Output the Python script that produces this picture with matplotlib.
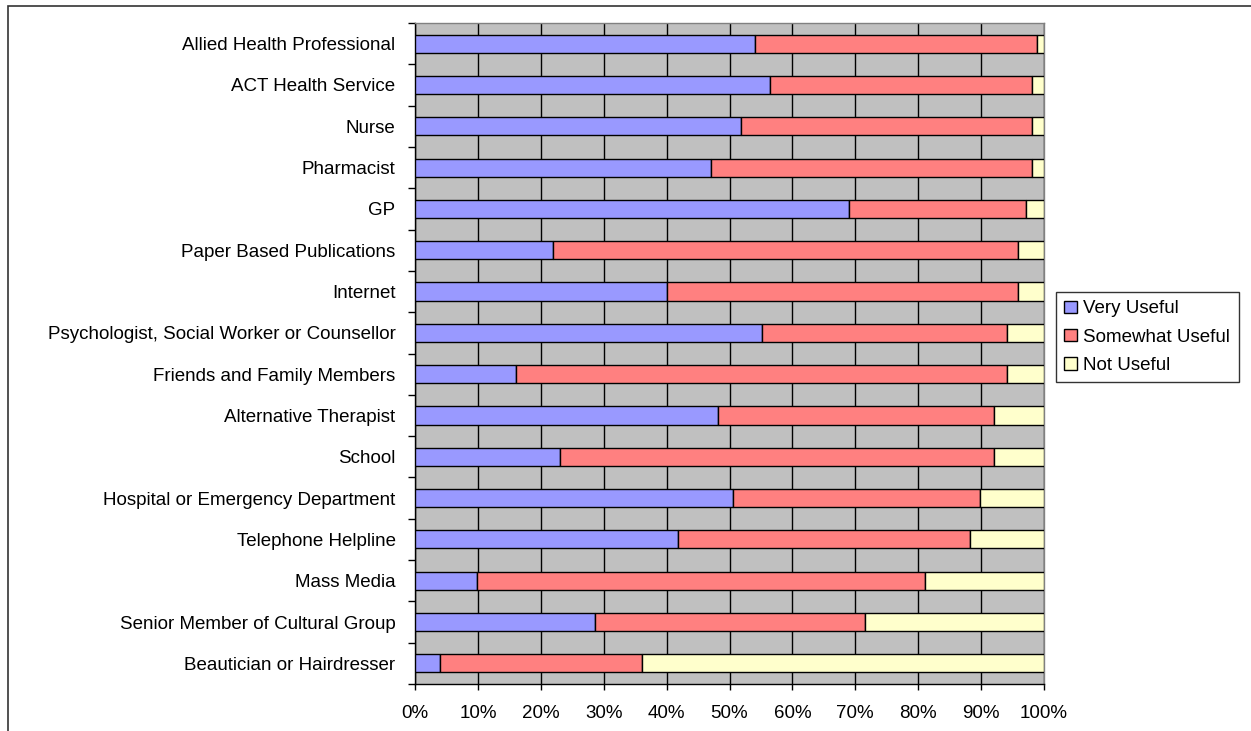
import matplotlib
matplotlib.use("Agg")

import numpy as np
import matplotlib.pyplot as plt
from matplotlib.patches import Rectangle

# categories, top to bottom as in the chart
categories = [
    "Allied Health Professional",
    "ACT Health Service",
    "Nurse",
    "Pharmacist",
    "GP",
    "Paper Based Publications",
    "Internet",
    "Psychologist, Social Worker or Counsellor",
    "Friends and Family Members",
    "Alternative Therapist",
    "School",
    "Hospital or Emergency Department",
    "Telephone Helpline",
    "Mass Media",
    "Senior Member of Cultural Group",
    "Beautician or Hairdresser",
]

# percentages
very_useful = [54.0, 56.4, 51.9, 47.0, 69.0, 21.9, 40.1, 55.1, 16.0, 48.1, 23.0, 50.6, 41.8, 9.8, 28.6, 3.9]
somewhat_useful = [44.9, 41.7, 46.2, 51.1, 28.1, 74.0, 55.8, 39.0, 78.1, 43.9, 69.0, 39.3, 46.5, 71.3, 42.9, 32.2]
not_useful = [1.1, 1.9, 1.9, 1.9, 2.9, 4.1, 4.1, 5.9, 5.9, 8.0, 8.0, 10.1, 11.7, 18.9, 28.5, 63.9]

series_names = ["Very Useful", "Somewhat Useful", "Not Useful"]
colors = ["#9999FF", "#FF8080", "#FFFFCC"]

plt.rcParams["font.family"] = ["Liberation Sans", "DejaVu Sans"]
FS = 13.5

fig = plt.figure(figsize=(12.51, 7.31), dpi=100)
ax = fig.add_axes([415 / 1251, 47 / 731, 629 / 1251, 661 / 731])
ax.set_facecolor("#C0C0C0")

y = np.arange(len(categories))
left = np.zeros(len(categories))
bars = []
for vals, name, c in zip([very_useful, somewhat_useful, not_useful], series_names, colors):
    b = ax.barh(y, vals, left=left, height=0.44, color=c, edgecolor="black",
                linewidth=1.0, label=name, zorder=3)
    bars.append(b)
    left = left + np.array(vals)

ax.set_xlim(0, 100)
ax.set_ylim(len(categories) - 0.5, -0.5)

ax.set_xticks(np.arange(0, 101, 10))
ax.set_xticklabels([f"{v}%" for v in range(0, 101, 10)], fontsize=FS)
ax.xaxis.grid(True, color="black", linewidth=1.0, zorder=1)
ax.set_axisbelow(True)
ax.tick_params(axis="x", direction="out", length=4, width=1, pad=11)

ax.set_yticks(y)
ax.set_yticklabels(categories, fontsize=FS)
ax.set_yticks(np.arange(-0.5, len(categories), 1), minor=True)
ax.tick_params(axis="y", which="major", length=0, pad=14)
ax.tick_params(axis="y", which="minor", direction="out", length=5, width=1)

for side in ["left", "bottom"]:
    ax.spines[side].set_color("black")
    ax.spines[side].set_linewidth(1.0)
for side in ["top", "right"]:
    ax.spines[side].set_color("#808080")
    ax.spines[side].set_linewidth(1.0)

leg = fig.legend(handles=bars, labels=series_names, loc="upper left",
                 bbox_to_anchor=(1056 / 1251, 1 - 292 / 731), fontsize=FS,
                 frameon=True, fancybox=False, handlelength=0.65, handleheight=0.65,
                 handletextpad=0.35, borderaxespad=0, labelspacing=0.6,
                 borderpad=0.45)
leg.get_frame().set_edgecolor("black")
leg.get_frame().set_linewidth(1.0)

# outer chart border
fig.patches.append(Rectangle((8 / 1251, -0.1), 1.2, 1 - 6 / 731 + 0.1,
                             transform=fig.transFigure, fill=False,
                             edgecolor="#333333", linewidth=1.2))

fig.savefig("out.png", dpi=100)
plt.close(fig)
